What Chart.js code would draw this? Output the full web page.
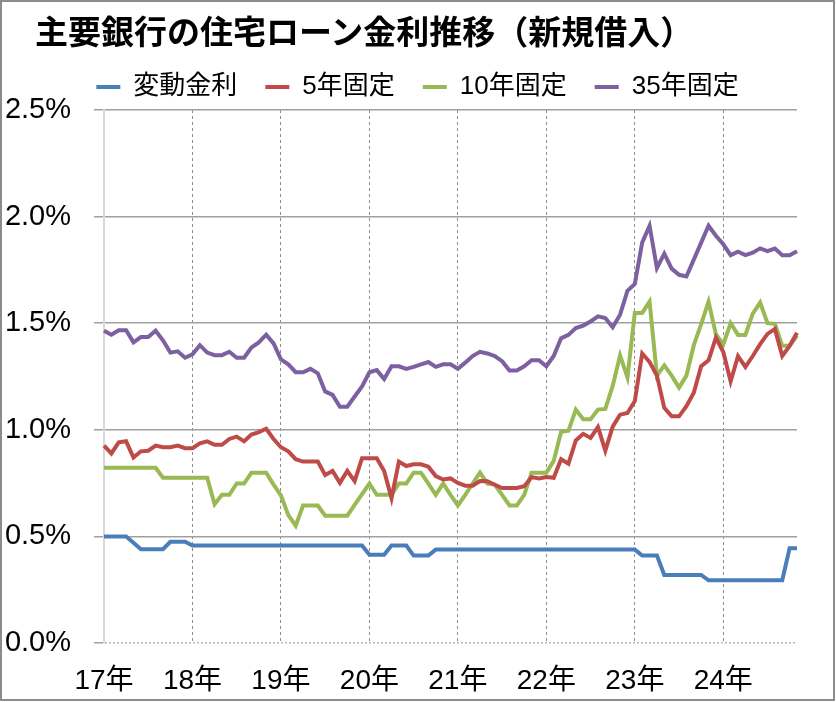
<!DOCTYPE html>
<html lang="ja">
<head>
<meta charset="utf-8">
<title>主要銀行の住宅ローン金利推移</title>
<script src="https://cdn.jsdelivr.net/npm/chart.js@4/dist/chart.umd.min.js"></script>
<style>
  html, body { margin: 0; padding: 0; background: #fff; }
  #wrap { width: 836px; height: 702px; position: relative; }
  #title {
    position: absolute; left: 35px; top: 12px; margin: 0;
    font: bold 33px/36px "Noto Sans CJK JP", sans-serif; color: #000;
    white-space: nowrap;
  }
</style>
</head>
<body>
<div id="wrap">
  <canvas id="rateChart"></canvas>
  <h1 id="title">主要銀行の住宅ローン金利推移（新規借入）</h1>
</div>
<script>
// 2017年1月〜2024年11月 (月次)
const yearLabels = ['17年', '18年', '19年', '20年', '21年', '22年', '23年', '24年'];
const months = [];
for (let y = 2017; y <= 2024; y++) {
  for (let m = 1; m <= 12; m++) {
    if (y === 2024 && m > 11) break;
    months.push(y + '/' + m);
  }
}

const hendo = [
  0.50, 0.50, 0.50, 0.50, 0.47, 0.44, 0.44, 0.44, 0.44, 0.475, 0.475, 0.475,
  0.457, 0.457, 0.457, 0.457, 0.457, 0.457, 0.457, 0.457, 0.457, 0.457, 0.457, 0.457,
  0.457, 0.457, 0.457, 0.457, 0.457, 0.457, 0.457, 0.457, 0.457, 0.457, 0.457, 0.457,
  0.414, 0.414, 0.414, 0.457, 0.457, 0.457, 0.41, 0.41, 0.41, 0.438, 0.438, 0.438,
  0.438, 0.438, 0.438, 0.438, 0.438, 0.438, 0.438, 0.438, 0.438, 0.438, 0.438, 0.438,
  0.438, 0.438, 0.438, 0.438, 0.438, 0.438, 0.438, 0.438, 0.438, 0.438, 0.438, 0.438,
  0.438, 0.41, 0.41, 0.41, 0.319, 0.319, 0.319, 0.319, 0.319, 0.319, 0.294, 0.294,
  0.294, 0.294, 0.294, 0.294, 0.294, 0.294, 0.294, 0.294, 0.294, 0.445, 0.445
];

const fixed5 = [
  0.926, 0.889, 0.941, 0.946, 0.87, 0.899, 0.902, 0.926, 0.918, 0.918, 0.926, 0.914,
  0.914, 0.937, 0.946, 0.93, 0.93, 0.957, 0.968, 0.946, 0.978, 0.989, 1.005, 0.957,
  0.918, 0.899, 0.862, 0.851, 0.851, 0.851, 0.788, 0.807, 0.751, 0.807, 0.759, 0.867,
  0.867, 0.867, 0.807, 0.679, 0.851, 0.83, 0.838, 0.838, 0.827, 0.783, 0.767, 0.772,
  0.751, 0.738, 0.738, 0.76, 0.759, 0.742, 0.727, 0.727, 0.727, 0.735, 0.778, 0.772,
  0.778, 0.775, 0.862, 0.841, 0.95, 0.981, 0.962, 1.013, 0.902, 1.015, 1.071, 1.079,
  1.135, 1.358, 1.318, 1.254, 1.103, 1.063, 1.063, 1.111, 1.174, 1.298, 1.326, 1.432,
  1.365, 1.227, 1.346, 1.295, 1.346, 1.402, 1.45, 1.473, 1.346, 1.394, 1.455
];

const fixed10 = [
  0.822, 0.822, 0.822, 0.822, 0.822, 0.822, 0.822, 0.822, 0.775, 0.775, 0.775, 0.775,
  0.775, 0.775, 0.775, 0.651, 0.695, 0.695, 0.748, 0.748, 0.799, 0.799, 0.799, 0.743,
  0.692, 0.60, 0.55, 0.645, 0.645, 0.645, 0.597, 0.597, 0.597, 0.597, 0.648, 0.698,
  0.748, 0.695, 0.695, 0.695, 0.748, 0.748, 0.799, 0.799, 0.748, 0.695, 0.748, 0.695,
  0.645, 0.695, 0.748, 0.799, 0.748, 0.743, 0.695, 0.645, 0.645, 0.695, 0.799, 0.799,
  0.799, 0.854, 0.991, 0.996, 1.095, 1.05, 1.05, 1.095, 1.098, 1.206, 1.349, 1.246,
  1.548, 1.548, 1.601, 1.254, 1.302, 1.254, 1.198, 1.254, 1.397, 1.496, 1.601, 1.448,
  1.40, 1.50, 1.445, 1.445, 1.545, 1.597, 1.50, 1.497, 1.394, 1.394, 1.441
];

const fixed35 = [
  1.465, 1.446, 1.467, 1.467, 1.41, 1.435, 1.435, 1.465, 1.42, 1.362, 1.368, 1.338,
  1.354, 1.397, 1.362, 1.35, 1.35, 1.366, 1.338, 1.338, 1.386, 1.41, 1.446, 1.405,
  1.33, 1.307, 1.27, 1.27, 1.286, 1.265, 1.18, 1.164, 1.108, 1.108, 1.156, 1.203,
  1.27, 1.28, 1.238, 1.298, 1.298, 1.286, 1.295, 1.307, 1.318, 1.295, 1.307, 1.307,
  1.286, 1.315, 1.346, 1.366, 1.358, 1.346, 1.322, 1.278, 1.278, 1.298, 1.326, 1.326,
  1.298, 1.346, 1.429, 1.445, 1.477, 1.489, 1.508, 1.532, 1.524, 1.481, 1.54, 1.652,
  1.684, 1.878, 1.957, 1.759, 1.826, 1.756, 1.727, 1.719, 1.798, 1.878, 1.957, 1.91,
  1.87, 1.819, 1.835, 1.819, 1.831, 1.851, 1.838, 1.85, 1.819, 1.819, 1.838
];

const seriesNames = ['変動金利', '5年固定', '10年固定', '35年固定'];
const seriesColors = ['#4A7EBB', '#BE4B48', '#98B954', '#7D60A0'];

const jpFont = '"Liberation Sans", "Noto Sans CJK JP", sans-serif';

// outer frame + nudge the legend a bit to the right (as in the original)
const frame = {
  id: 'frame',
  afterLayout(chart) {
    chart.legend.left += 18;
    chart.legend.right += 18;
  },
  afterDraw(chart) {
    const c = chart.ctx;
    c.save();
    c.strokeStyle = '#8c8c8c';
    c.lineWidth = 2;
    c.strokeRect(1, 1, chart.width - 3, chart.height - 3);
    c.restore();
  }
};

const ctx = document.getElementById('rateChart');

new Chart(ctx, {
  type: 'line',
  data: {
    labels: months,
    datasets: [hendo, fixed5, fixed10, fixed35].map((d, i) => ({
      label: seriesNames[i],
      data: d,
      borderColor: seriesColors[i],
      backgroundColor: seriesColors[i],
      borderWidth: 4,
      pointRadius: 0,
      fill: false,
      tension: 0
    }))
  },
  options: {
    responsive: true,
    maintainAspectRatio: false,
    animation: false,
    layout: {
      padding: { left: 2, right: 39, top: 46, bottom: 0 }
    },
    plugins: {
      title: { display: false },
      legend: {
        display: true,
        maxHeight: 73,
        labels: {
          color: '#000',
          font: { family: jpFont, size: 26 },
          boxWidth: 24,
          boxHeight: 4,
          padding: 28,
          generateLabels: (chart) =>
            Chart.defaults.plugins.legend.labels.generateLabels(chart).map(l => ({ ...l, lineWidth: 0 }))
        }
      },
      tooltip: { enabled: false }
    },
    scales: {
      x: {
        afterFit: (axis) => { axis.height = 59; },
        grid: {
          drawTicks: false,
          lineWidth: 1,
          color: (c) => (c.index > 0 && c.index % 12 === 0) ? '#8c8c8c' : 'rgba(0,0,0,0)'
        },
        border: { display: false, dash: [3, 3] },
        ticks: {
          autoSkip: false,
          maxRotation: 0,
          minRotation: 0,
          padding: 21,
          color: '#000',
          font: { family: jpFont, size: 28 },
          callback: (val, index) => index % 12 === 0 ? yearLabels[index / 12] : ''
        }
      },
      y: {
        min: 0,
        max: 2.5,
        afterFit: (axis) => { axis.width = 102; },
        grid: {
          drawTicks: true,
          tickLength: 10,
          lineWidth: 1.5,
          color: (c) => c.index === 0 ? '#b5b5b5' : '#a0a0a0',
          tickColor: '#a0a0a0'
        },
        border: {
          display: true,
          color: '#d9d9d9',
          width: 2,
          dash: (c) => c.index === 0 ? [2, 2] : []
        },
        ticks: {
          stepSize: 0.5,
          padding: 23,
          color: '#000',
          font: { family: jpFont, size: 29 },
          callback: (v) => v.toFixed(1) + '%'
        }
      }
    }
  },
  plugins: [frame]
});
</script>
</body>
</html>
